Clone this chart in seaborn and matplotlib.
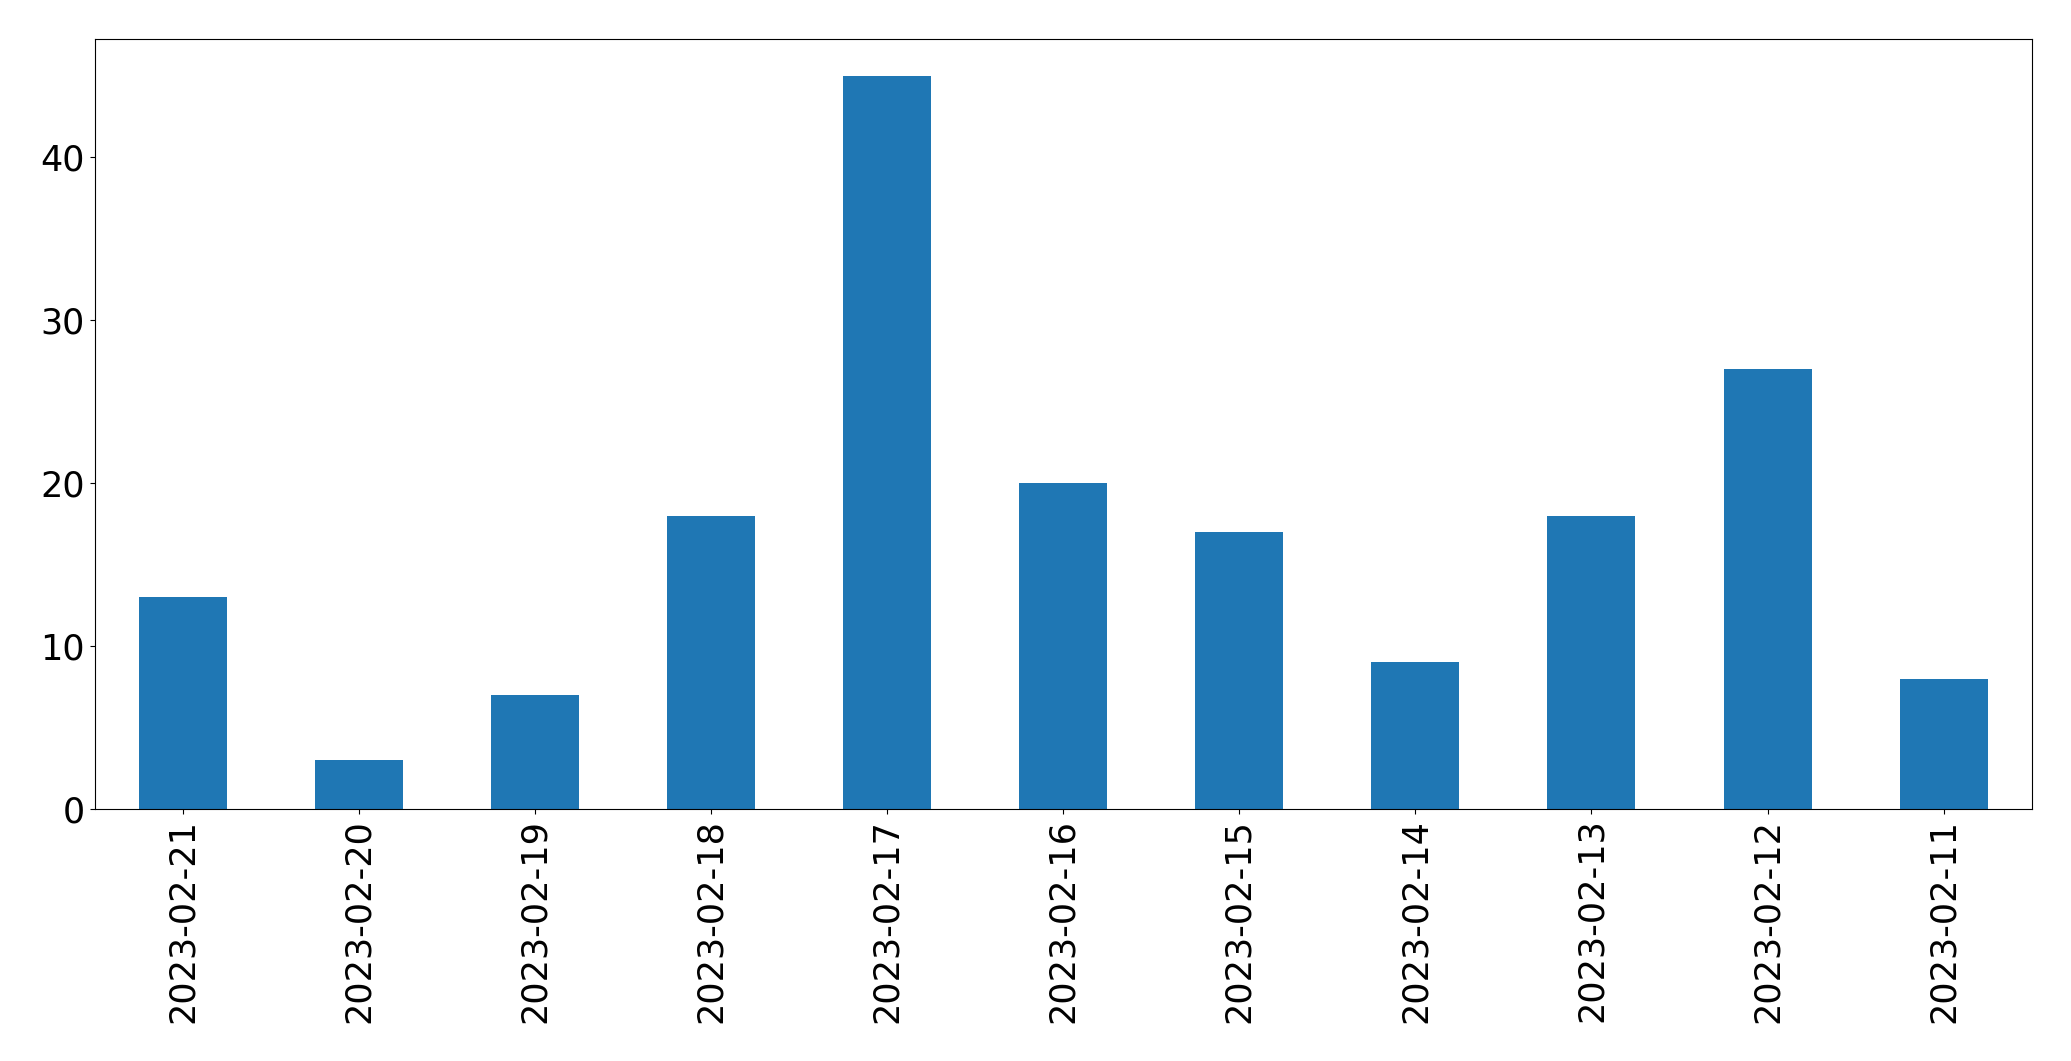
import pandas as pd
import seaborn as sns
import matplotlib
matplotlib.use('Agg')
import matplotlib.pyplot as plt

# daily counts, newest first
dates = ['2023-02-21', '2023-02-20', '2023-02-19', '2023-02-18', '2023-02-17', '2023-02-16',
         '2023-02-15', '2023-02-14', '2023-02-13', '2023-02-12', '2023-02-11']
counts = [13, 3, 7, 18, 45, 20, 17, 9, 18, 27, 8]

df = pd.DataFrame({'date': dates, 'count': counts})

fig = plt.figure(figsize=(20.71, 10.61), dpi=100)
ax = fig.add_axes([94.7 / 2071, 1 - 809 / 1061, (2031.7 - 94.7) / 2071, (809 - 39.3) / 1061])

sns.barplot(data=df, x='date', y='count', order=dates, color='#1f77b4',
            saturation=1, width=0.5, ax=ax)

ax.set_xlim(-0.5, len(dates) - 0.5)
ax.set_ylim(0, max(counts) * 1.05)
ax.set_yticks([0, 10, 20, 30, 40])
ax.set_xlabel(None)
ax.set_ylabel(None)
ax.tick_params(axis='both', labelsize=25.2)
plt.xticks(rotation=90)

plt.savefig('out.png', dpi=100)
